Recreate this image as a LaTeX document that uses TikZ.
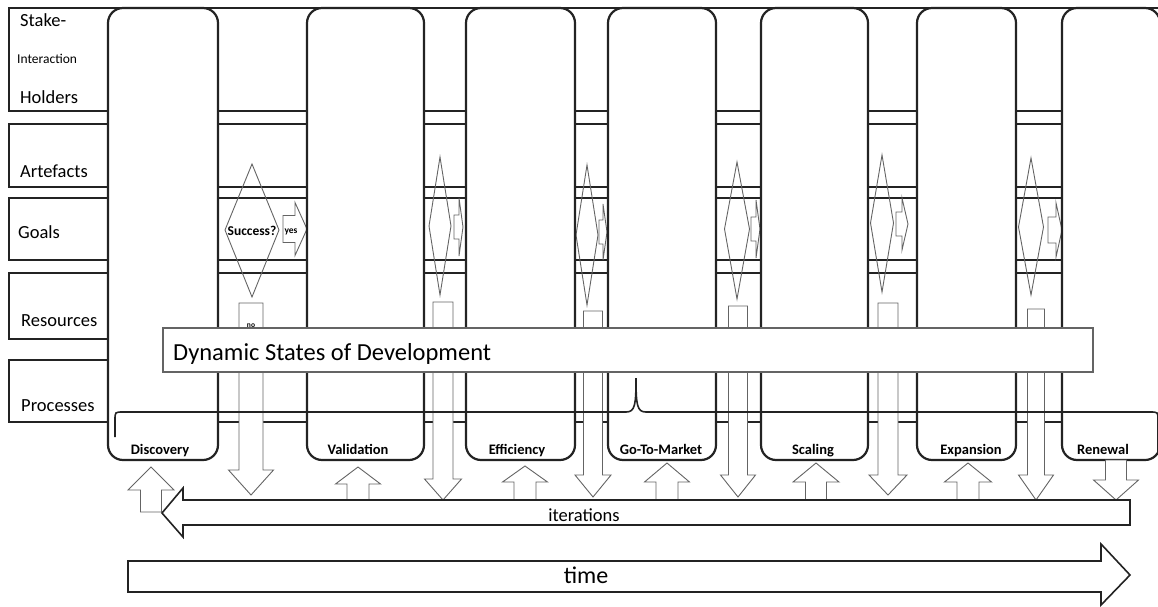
\documentclass[tikz,border=0pt]{standalone}
\usepackage{fontspec}
\setmainfont{Carlito}
\usepackage{tikz}
\usetikzlibrary{calc}
\definecolor{figline}{RGB}{35,35,35}
\definecolor{figgrey}{RGB}{100,100,100}
\newcommand{\colTop}{8}
\newcommand{\colBot}{460}
\newcommand{\bandL}{9}
\newcommand{\bandR}{1175}
\tikzset{
  bandbox/.style ={draw=figline,line width=2.2pt},
  colbox/.style  ={draw=figline,fill=white,line width=2.2pt,rounded corners=15pt},
  rowlab/.style  ={anchor=base west,inner sep=0pt,font=\fontsize{18.5}{20}\selectfont},
  phaselab/.style={anchor=base,inner sep=0pt,font=\bfseries\fontsize{14.5}{16}\selectfont},
  gatedia/.style ={draw=figgrey,line width=0.9pt,line join=miter},
  blkarr/.style  ={draw=figgrey,fill=white,line width=0.9pt},
  bigarr/.style  ={draw=figline,fill=white,line width=1.6pt},
  dsbox/.style   ={draw=figgrey,fill=white,line width=1.2pt},
  bracket/.style ={draw=figline,line width=1.6pt},
  smalllab/.style={anchor=base,inner sep=0pt,font=\bfseries\fontsize{#1}{#1}\selectfont},
}
\newcommand{\band}[2]{\draw[bandbox] (\bandL,#1) rectangle (\bandR,#2);}
\newcommand{\phasecol}[5]{%
  \draw[colbox] (#2,\colTop) rectangle (#3,\colBot);
  \node[phaselab] (#1) at (#5,454) {#4};
}
\newcommand{\decide}[6]{% name, cx, top, bottom, cy, half width
  \coordinate (#1t) at (#2,#3);
  \coordinate (#1b) at (#2,#4);
  \coordinate (#1l) at ({#2-#6},#5);
  \coordinate (#1r) at ({#2+#6},#5);
  \draw[gatedia] (#1t) -- (#1r) -- (#1b) -- (#1l) -- cycle;
}
\newcommand{\yesarr}[6]{%
  \draw[gatedia] (#1,{#4-#5}) -- (#2,{#4-#5}) -- (#2,{#4-#6}) -- (#3,#4)
    -- (#2,{#4+#6}) -- (#2,{#4+#5}) -- (#1,{#4+#5}) -- cycle;
}
\newcommand{\dnarr}[6]{%
  \draw[blkarr] ({#1-#5},#2) -- ({#1-#5},#3) -- ({#1-#6},#3) -- (#1,#4)
    -- ({#1+#6},#3) -- ({#1+#5},#3) -- ({#1+#5},#2) -- cycle;
}
\newcommand{\uparr}[6]{%
  \draw[blkarr] ({#1-#5},#4) -- ({#1-#5},#3) -- ({#1-#6},#3) -- (#1,#2)
    -- ({#1+#6},#3) -- ({#1+#5},#3) -- ({#1+#5},#4) -- cycle;
}

\begin{document}
\begin{tikzpicture}[x=1pt,y=-1pt]
  \useasboundingbox (0,0) rectangle (1158,607);
  % row bands, behind the phase columns
  \band{8}{111}
  \band{124}{187}
  \band{198}{260}
  \band{273}{339}
  \band{360}{422}
  \node[rowlab] (shA) at (20,27) {Stake-};
  \node[rowlab,font=\fontsize{13.5}{15}\selectfont] (shI) at (17,64) {Interaction};
  \node[rowlab] (shB) at (20,104) {Holders};
  \node[rowlab] (art) at (20,177) {Artefacts};
  \node[rowlab] (goal) at (18,238) {Goals};
  \node[rowlab] (res) at (21,326) {Resources};
  \node[rowlab] (proc) at (21,411) {Processes};
  % decision between two phases
  \decide{g1}{252}{164}{297}{230}{27}
  \decide{g2}{440}{157}{295}{226}{11}
  \decide{g3}{587}{165}{305}{235}{11}
  \decide{g4}{737}{162}{299}{229}{12.5}
  \decide{g5}{882}{155}{292}{223}{11.5}
  \decide{g6}{1031}{158}{295}{227}{12.5}
  \yesarr{283}{295}{307}{229}{13.5}{26.5}
  \yesarr{454}{459}{463}{227}{12}{29}
  \yesarr{599}{603}{607}{232}{12}{28}
  \yesarr{751}{756}{760}{229}{12}{29}
  \yesarr{896}{902}{908}{224}{12}{26}
  \yesarr{1048}{1056}{1062}{230}{13}{27}
  \dnarr{251}{303}{470}{495}{12}{22.5}
  \dnarr{443}{302}{479}{500}{10}{18.5}
  \dnarr{593}{311}{475}{497}{9.5}{18}
  \dnarr{738}{306}{475}{497}{9.5}{17.5}
  \dnarr{888}{303}{475}{495}{10}{19}
  \dnarr{1036}{309}{475}{500}{8.5}{17.5}
  \node[smalllab=13.5] (succ) at (252,235) {Success?};
  \node[smalllab=9.5] (yes) at (291,233) {yes};
  \node[smalllab=7.5] (no) at (251,327) {no};
  % phase columns
  \phasecol{disc}{108}{218}{Discovery}{160}
  \phasecol{vali}{307}{424}{Validation}{358}
  \phasecol{effi}{466}{575}{Efficiency}{517}
  \phasecol{gtm}{608}{716}{Go-To-Market}{661}
  \phasecol{scal}{761}{868}{Scaling}{813}
  \phasecol{expa}{917}{1016}{Expansion}{971}
  \phasecol{rene}{1062}{1160}{Renewal}{1103}
  \draw[bracket] (115,437) -- (115,420) .. controls (115,412) .. (123,412)
    -- (626,412) .. controls (635,412) and (636,405) .. (636,378)
    .. controls (636,405) and (637,412) .. (646,412)
    -- (1150,412) .. controls (1158,412) .. (1158,420) -- (1158,452);
  \draw[dsbox] (163,328) rectangle (1093,372);
  \node[anchor=base west,inner sep=0pt,font=\fontsize{24.5}{28}\selectfont] (dsd) at (173,360) {Dynamic States of Development};
  % feedback into the phases
  \uparr{151}{467}{490}{512}{10.5}{23}
  \uparr{358}{467}{484}{500}{11}{22.5}
  \uparr{525}{466}{482}{500}{11}{22.5}
  \uparr{667}{463}{482}{500}{11}{22.5}
  \uparr{816}{463}{482}{500}{10.5}{23}
  \uparr{968}{463}{482}{500}{11}{23.5}
  \dnarr{1116}{460}{480}{500}{10.5}{22.5}
  \draw[bigarr] (1130,500) -- (183,500) -- (183,488) -- (162,513) -- (183,537)
    -- (183,525) -- (1130,525) -- cycle;
  \node[anchor=base,inner sep=0pt,font=\fontsize{18.5}{20}\selectfont] (iter) at (584,521) {iterations};
  \draw[bigarr] (128,561) -- (1101,561) -- (1101,544) -- (1130,575) -- (1101,605)
    -- (1101,592) -- (128,592) -- cycle;
  \node[anchor=base,inner sep=0pt,font=\fontsize{24}{26}\selectfont] (time) at (586,583) {time};
\end{tikzpicture}
\end{document}
